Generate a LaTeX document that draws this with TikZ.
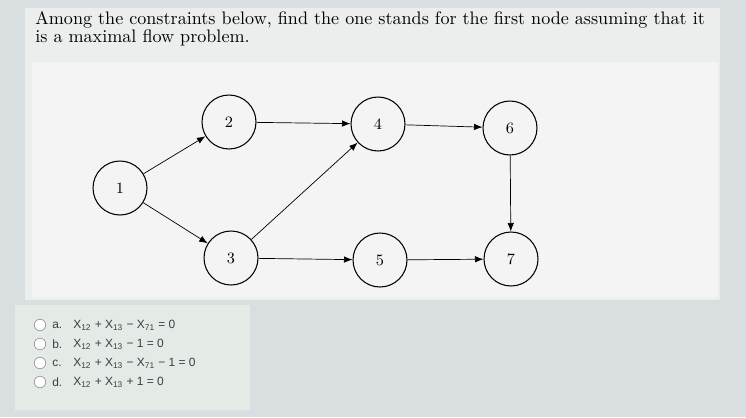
\documentclass[tikz,border=0pt]{standalone}
\usepackage{fontspec}
\newfontfamily\optfont{Liberation Sans}
\usetikzlibrary{arrows.meta,positioning}
\definecolor{bgout}{HTML}{D9DFE1}
\definecolor{bgpanel}{HTML}{ECEEEE}
\definecolor{bgplot}{HTML}{F3F4F3}
\definecolor{bgopt}{HTML}{E4EBE6}
\definecolor{opttext}{HTML}{3A3F44}
\newcommand{\xv}[1]{X\textsubscript{#1}}

\begin{document}
\begin{tikzpicture}[
  x=0.02cm,y=-0.02cm,
  state/.style={draw,circle,semithick,minimum size=1.08cm,inner sep=0pt,
                font=\small},
  arr/.style={-{Latex[length=1.7mm,width=1.3mm]},thin},
  radio/.style={draw=gray!80,fill=white,circle,minimum size=0.23cm,inner sep=0pt},
  opt/.style={anchor=west,inner sep=0pt,text=opttext,
              font=\optfont\fontsize{6.8}{8}\selectfont}
]
\useasboundingbox (0,0) rectangle (746,417);
% background of the page
\fill[bgout] (0,0) rectangle (746,417);
\fill[bgpanel] (25,8) rectangle (720,300);
\fill[bgplot] (32,62) rectangle (718,298);
\fill[bgopt] (15,305) rectangle (250,410);

% question
\node[anchor=north west,inner sep=0pt,align=left,text width=14.2cm,
      font=\fontsize{10.3}{10.2}\selectfont] (q) at (35,11)
  {Among the constraints below, find the one stands for the first node assuming that it\\
   is a maximal flow problem.};

% network
\node[state] (n1) at (120,188) {1};
\node[state] (n2) at (229,122) {2};
\node[state] (n3) at (231,258) {3};
\node[state] (n4) at (378,124) {4};
\node[state] (n5) at (380,260) {5};
\node[state] (n6) at (510,128) {6};
\node[state] (n7) at (511,259) {7};
\draw[arr] (n1)--(n2);
\draw[arr] (n1)--(n3);
\draw[arr] (n2)--(n4);
\draw[arr] (n3)--(n4);
\draw[arr] (n3)--(n5);
\draw[arr] (n4)--(n6);
\draw[arr] (n5)--(n7);
\draw[arr] (n6)--(n7);

% answer options
\node[radio] (ra) at (40,325) {};
\node[radio] (rb) at (40,344) {};
\node[radio] (rc) at (40,363) {};
\node[radio] (rd) at (40,382) {};
\node[opt] (la) at (52,325) {a.};
\node[opt] (lb) at (52,344) {b.};
\node[opt] (lc) at (52,363) {c.};
\node[opt] (ld) at (52,382) {d.};
\node[opt] (fa) at (73,325) {\xv{12} + \xv{13} − \xv{71} = 0};
\node[opt] (fb) at (73,344) {\xv{12} + \xv{13} − 1 = 0};
\node[opt] (fc) at (73,363) {\xv{12} + \xv{13} − \xv{71} − 1 = 0};
\node[opt] (fd) at (73,382) {\xv{12} + \xv{13} + 1 = 0};
\end{tikzpicture}
\end{document}
